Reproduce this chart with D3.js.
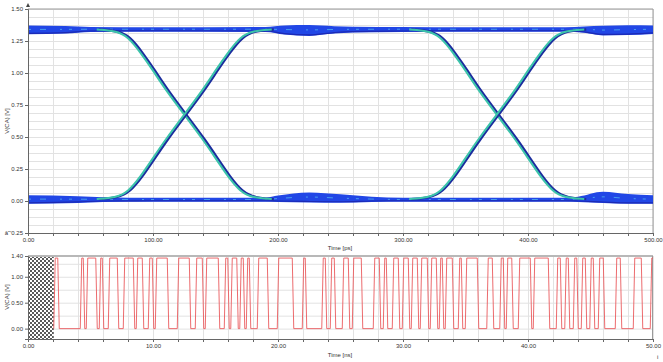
<!doctype html>
<html>
<head>
<script src="https://d3js.org/d3.v7.min.js"></script>
<style>
  body { margin: 0; background: #fff; }
  text { font-family: "Liberation Sans", Arial, sans-serif; fill: #333; }
  .grid line { stroke: #e2e2e2; stroke-width: 1; }
  .grid path { display: none; }
  .axis path, .axis line { stroke: #666; }
</style>
</head>
<body>
<svg width="663" height="362"></svg>
<script>
// ---- eye diagram (top) ----
// rail envelopes: [time ps, upper V, lower V]
var highRail = [[0,1.372,1.302],[30,1.368,1.308],[50,1.36,1.32],[100,1.358,1.322],[190,1.36,1.32],
  [205,1.372,1.30],[225,1.375,1.29],[245,1.366,1.308],[260,1.362,1.316],[300,1.36,1.32],
  [350,1.358,1.322],[430,1.358,1.322],[445,1.364,1.314],[460,1.37,1.293],[480,1.374,1.296],[500,1.372,1.305]];
var lowRail = [[0,0.045,-0.022],[40,0.038,-0.015],[60,0.03,-0.008],[100,0.026,-0.006],[190,0.026,-0.006],
  [200,0.042,-0.008],[225,0.066,-0.012],[250,0.052,-0.014],[275,0.034,-0.008],[300,0.026,-0.006],
  [430,0.026,-0.006],[440,0.034,-0.008],[460,0.072,-0.016],[480,0.054,-0.022],[500,0.044,-0.022]];
// edges: [time ps, V]
var fall1 = [[55,1.34],[70,1.33],[80,1.285],[90,1.16],[100,1.02],[110,0.87],[125,0.675],
  [140,0.48],[150,0.335],[160,0.19],[170,0.07],[180,0.025],[195,0.015]];
var rise1 = [[55,0.015],[70,0.025],[80,0.07],[90,0.19],[100,0.335],[110,0.48],[125,0.675],
  [140,0.87],[150,1.02],[160,1.16],[170,1.285],[180,1.33],[195,1.34]];
var fall2 = [[305,1.34],[320,1.33],[330,1.285],[340,1.16],[350,1.02],[360,0.87],[375,0.675],
  [390,0.48],[400,0.335],[410,0.19],[420,0.07],[430,0.025],[445,0.015]];
var rise2 = [[305,0.015],[320,0.025],[330,0.07],[340,0.19],[350,0.335],[360,0.48],[375,0.675],
  [390,0.87],[400,1.02],[410,1.16],[420,1.285],[430,1.33],[445,1.34]];
var eyeXTicks = [0, 100, 200, 300, 400, 500];
var eyeYTicks = [-0.25, 0, 0.25, 0.5, 0.75, 1, 1.25, 1.5];

// ---- time-domain trace (bottom) ----
var traceStart = 2.06;     // ns, end of hatched region
var edgeTimes = [2.12,2.44,4.24,4.48,4.72,5.48,5.76,6.00,6.48,7.20,7.68,8.48,8.72,9.20,9.68,10.00,
  10.24,11.20,12.00,12.96,13.44,14.00,14.24,15.28,15.76,16.04,16.28,16.76,17.00,17.28,17.52,17.76,
  18.40,19.20,20.00,21.20,22.00,22.24,23.56,23.84,24.24,24.56,25.20,25.68,26.00,26.72,27.68,28.16,
  28.48,28.72,29.20,29.68,30.00,30.48,30.72,31.20,31.44,32.00,32.24,32.72,32.96,33.20,33.44,34.00,
  34.48,34.72,35.04,36.00,36.76,37.20,37.80,38.08,38.32,38.76,39.28,40.24,40.48,41.68,42.32,42.64,
  43.00,43.28,43.68,43.96,44.32,44.64,45.00,45.28,45.68,46.08,47.04,47.44,48.48,49.12,49.84];
var vHigh = 1.36, vLow = 0.0;
var trXTicks = [0, 10, 20, 30, 40, 50];
var trYTicks = [0, 0.5, 1, 1.4];

var svg = d3.select("svg");
var fmt = function (d) { return d3.format(".2f")(d).replace("\u2212", "-"); };

// defs: checker pattern for the hatched start region
var pat = svg.append("defs").append("pattern")
  .attr("id", "checker").attr("width", 4).attr("height", 4)
  .attr("patternUnits", "userSpaceOnUse");
pat.append("rect").attr("width", 4).attr("height", 4).attr("fill", "#fff");
pat.append("rect").attr("width", 2).attr("height", 2).attr("fill", "#5a5a5a");
pat.append("rect").attr("x", 2).attr("y", 2).attr("width", 2).attr("height", 2).attr("fill", "#5a5a5a");

// ================= TOP: eye =================
var x1 = d3.scaleLinear().domain([0, 500]).range([28, 653]);
var y1 = d3.scaleLinear().domain([-0.25, 1.5]).range([233, 9]);

svg.append("g").attr("class", "grid")
  .attr("transform", "translate(0,233)")
  .call(d3.axisBottom(x1).tickValues(d3.range(0, 501, 20)).tickSize(-224).tickFormat(""));
svg.append("g").attr("class", "grid")
  .attr("transform", "translate(28,0)")
  .call(d3.axisLeft(y1).tickValues(d3.range(-0.25, 1.51, 0.0625)).tickSize(-625).tickFormat(""));

// frame top/right
svg.append("line").attr("x1", 28).attr("x2", 653).attr("y1", 9).attr("y2", 9)
  .attr("stroke", "#9a9a9a").attr("stroke-width", 1.2);
svg.append("line").attr("x1", 653).attr("x2", 653).attr("y1", 9).attr("y2", 233)
  .attr("stroke", "#9a9a9a");

var railArea = d3.area().x(d => x1(d[0])).y0(d => y1(d[2])).y1(d => y1(d[1]))
  .curve(d3.curveMonotoneX);
var railMid = d3.line().x(d => x1(d[0])).y(d => y1(d[1] * 0.55 + d[2] * 0.45)).curve(d3.curveMonotoneX);
var railLow = d3.line().x(d => x1(d[0])).y(d => y1(d[2] + 0.008)).curve(d3.curveMonotoneX);

[highRail, lowRail].forEach(function (r) {
  svg.append("path").attr("d", railArea(r)).attr("fill", "#2147e6");
  svg.append("path").attr("d", railLow(r)).attr("fill", "none")
    .attr("stroke", "#1a22a8").attr("stroke-width", 1.2).attr("opacity", 0.8);
  svg.append("path").attr("d", railMid(r)).attr("fill", "none")
    .attr("stroke", "#5ccff0").attr("stroke-width", 0.9)
    .attr("stroke-dasharray", "3,9,6,14,2,7").attr("opacity", 0.7);
});

var edgeLine = d3.line().x(d => x1(d[0])).y(d => y1(d[1])).curve(d3.curveBasis);
var edgeShift = d3.line().x(d => x1(d[0] + 1.6)).y(d => y1(d[1])).curve(d3.curveBasis);
[fall1, rise1, fall2, rise2].forEach(function (e) {
  svg.append("path").attr("d", edgeShift(e)).attr("fill", "none")
    .attr("stroke", "#1c2c9e").attr("stroke-width", 2.4);
  svg.append("path").attr("d", edgeLine(e)).attr("fill", "none")
    .attr("stroke", "#3cc4aa").attr("stroke-width", 2);
});

// axes
var ax1 = svg.append("g").attr("class", "axis").attr("transform", "translate(0,233)")
  .call(d3.axisBottom(x1).tickValues(d3.range(0, 501, 20)).tickSize(3).tickPadding(2)
    .tickFormat(d => eyeXTicks.indexOf(d) >= 0 ? fmt(d) : ""));
var ay1 = svg.append("g").attr("class", "axis").attr("transform", "translate(28,0)")
  .call(d3.axisLeft(y1).tickValues(eyeYTicks).tickSize(3).tickPadding(2).tickFormat(fmt));
[ax1, ay1].forEach(g => g.selectAll("text").attr("font-size", 6).attr("fill", "#333"));
ax1.select(".domain").attr("stroke", "#555");
ay1.select(".domain").attr("stroke", "#555");
svg.append("path").attr("d", "M26,7 L28,3 L30,7 Z").attr("fill", "#444");

svg.append("text").attr("x", 340).attr("y", 250).attr("text-anchor", "middle")
  .attr("font-size", 6).text("Time [ps]");
svg.append("text").attr("transform", "translate(9,121) rotate(-90)")
  .attr("text-anchor", "middle").attr("font-size", 6).text("V(CA) [V]");

// ================= BOTTOM: transient =================
var x2 = d3.scaleLinear().domain([0, 50]).range([28, 653]);
var y2 = d3.scaleLinear().domain([-0.2, 1.4]).range([339, 256]);

svg.append("g").attr("class", "grid")
  .attr("transform", "translate(0,339)")
  .call(d3.axisBottom(x2).tickValues(d3.range(0, 50.01, 2)).tickSize(-83).tickFormat(""));
svg.append("g").attr("class", "grid")
  .attr("transform", "translate(28,0)")
  .call(d3.axisLeft(y2).tickValues(d3.range(0, 1.3, 0.25)).tickSize(-625).tickFormat(""));

svg.append("rect").attr("x", x2(0)).attr("y", y2(1.4))
  .attr("width", x2(traceStart) - x2(0)).attr("height", y2(-0.2) - y2(1.4))
  .attr("fill", "url(#checker)");

svg.append("line").attr("x1", 28).attr("x2", 653).attr("y1", 256).attr("y2", 256)
  .attr("stroke", "#b8b8b8").attr("stroke-width", 2.2);
svg.append("line").attr("x1", 652.5).attr("x2", 652.5).attr("y1", 256).attr("y2", 339)
  .attr("stroke", "#9a9a9a");

var pts = [[traceStart, vLow]];
var level = vLow;
edgeTimes.forEach(function (t) {
  var next = level === vLow ? vHigh : vLow;
  pts.push([t - 0.06, level]);
  pts.push([t + 0.06, next]);
  level = next;
});
pts.push([50, level]);

svg.append("path")
  .attr("d", d3.line().x(d => x2(d[0])).y(d => y2(d[1]))(pts))
  .attr("fill", "none").attr("stroke", "#ea5a5e").attr("stroke-width", 0.9);

var ax2 = svg.append("g").attr("class", "axis").attr("transform", "translate(0,339)")
  .call(d3.axisBottom(x2).tickValues(d3.range(0, 50.01, 2)).tickSize(3).tickPadding(2)
    .tickFormat(d => trXTicks.indexOf(Math.round(d)) >= 0 && Math.abs(d % 10) < 0.01 ? fmt(d) : ""));
var ay2 = svg.append("g").attr("class", "axis").attr("transform", "translate(28,0)")
  .call(d3.axisLeft(y2).tickValues(trYTicks).tickSize(3).tickPadding(2).tickFormat(fmt));
[ax2, ay2].forEach(g => g.selectAll("text").attr("font-size", 6).attr("fill", "#333"));
ax2.select(".domain").attr("stroke", "#555");
ay2.select(".domain").attr("stroke", "#555");

svg.append("text").attr("x", 340).attr("y", 357).attr("text-anchor", "middle")
  .attr("font-size", 6).text("Time [ns]");
svg.append("text").attr("transform", "translate(9,297) rotate(-90)")
  .attr("text-anchor", "middle").attr("font-size", 6).text("V(CA) [V]");
svg.append("text").attr("x", 657).attr("y", 359).attr("font-size", 6).text("i");
</script>
</body>
</html>
